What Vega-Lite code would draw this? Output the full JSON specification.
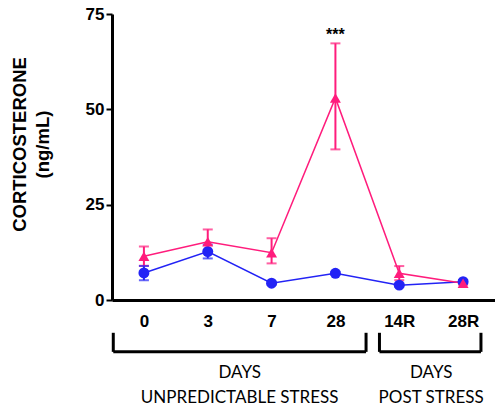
{
  "$schema": "https://vega.github.io/schema/vega-lite/v6.json",
  "autosize": "none",
  "width": 383,
  "height": 286,
  "padding": {"left": 112, "top": 14, "right": 0, "bottom": 111},
  "config": {"view": {"stroke": null}},
  "datasets": {
    "pts": [
      {"idx": 0, "group": "B", "value": 7.1, "lo": 5.2, "hi": 8.9},
      {"idx": 1, "group": "B", "value": 12.7, "lo": 10.9, "hi": 14.5},
      {"idx": 2, "group": "B", "value": 4.4, "lo": 4.0, "hi": 4.8},
      {"idx": 3, "group": "B", "value": 7.0, "lo": 6.6, "hi": 7.4},
      {"idx": 4, "group": "B", "value": 3.9, "lo": 3.5, "hi": 4.3},
      {"idx": 5, "group": "B", "value": 4.8, "lo": 4.4, "hi": 5.2},
      {"idx": 0, "group": "P", "value": 11.5, "lo": 9.0, "hi": 14.0},
      {"idx": 1, "group": "P", "value": 15.3, "lo": 12.3, "hi": 18.5},
      {"idx": 2, "group": "P", "value": 12.4, "lo": 9.6, "hi": 16.2},
      {"idx": 3, "group": "P", "value": 53.0, "lo": 39.5, "hi": 67.3},
      {"idx": 4, "group": "P", "value": 7.0, "lo": 5.2, "hi": 8.9},
      {"idx": 5, "group": "P", "value": 4.4, "lo": 4.0, "hi": 4.8}
    ],
    "brackets": [
      {"x": -0.48, "x2": -0.48, "y": -8.6, "y2": -13.6},
      {"x": 3.48, "x2": 3.48, "y": -8.6, "y2": -13.6},
      {"x": -0.48, "x2": 3.48, "y": -13.6, "y2": -13.6},
      {"x": 3.69, "x2": 3.69, "y": -8.6, "y2": -13.6},
      {"x": 5.28, "x2": 5.28, "y": -8.6, "y2": -13.6},
      {"x": 3.69, "x2": 5.28, "y": -13.6, "y2": -13.6}
    ],
    "notes": [
      {"x": 1.5, "y": -19.1, "text": "DAYS"},
      {"x": 1.5, "y": -25.7, "text": "UNPREDICTABLE STRESS"},
      {"x": 4.5, "y": -19.1, "text": "DAYS"},
      {"x": 4.5, "y": -25.7, "text": "POST STRESS"}
    ],
    "stars": [{"x": 3, "y": 69.5, "text": "***"}]
  },
  "layer": [
    {
      "data": {"name": "pts"},
      "mark": {"type": "line", "strokeWidth": 1.5},
      "encoding": {
        "x": {
          "field": "idx", "type": "quantitative",
          "scale": {"domain": [-0.5, 5.5], "nice": false, "zero": false},
          "axis": {
            "title": null, "values": [0, 1, 2, 3, 4, 5], "grid": false, "ticks": false,
            "labelExpr": "['0','3','7','28','14R','28R'][datum.value]",
            "domainColor": "black", "domainWidth": 3,
            "labelFont": "Liberation Sans", "labelFontWeight": "bold", "labelFontSize": 17,
            "labelColor": "black", "labelPadding": 13
          }
        },
        "y": {
          "field": "value", "type": "quantitative",
          "scale": {"domain": [0, 75], "nice": false},
          "axis": {
            "title": ["CORTICOSTERONE", "(ng/mL)"], "values": [0, 25, 50, 75], "grid": false,
            "domainColor": "black", "domainWidth": 3, "tickColor": "black", "tickWidth": 2, "tickSize": 6,
            "labelFont": "Liberation Sans", "labelFontWeight": "bold", "labelFontSize": 17, "labelColor": "black",
            "labelPadding": 2,
            "titleFont": "Liberation Sans", "titleFontWeight": "bold", "titleFontSize": 18.5, "titleColor": "black",
            "titlePadding": 33, "titleLineHeight": 23, "titleY": 130
          }
        },
        "color": {"field": "group", "type": "nominal", "scale": {"domain": ["B", "P"], "range": ["#2323F5", "#FF1C7C"]}, "legend": null},
        "order": {"field": "idx"}
      }
    },
    {
      "data": {"name": "pts"},
      "mark": {"type": "rule", "strokeWidth": 2},
      "encoding": {
        "x": {"field": "idx", "type": "quantitative"},
        "y": {"field": "lo", "type": "quantitative"},
        "y2": {"field": "hi"},
        "color": {"field": "group", "type": "nominal"}
      }
    },
    {
      "data": {"name": "pts"},
      "mark": {"type": "tick", "orient": "horizontal", "thickness": 2, "size": 10},
      "encoding": {
        "x": {"field": "idx", "type": "quantitative"},
        "y": {"field": "lo", "type": "quantitative"},
        "color": {"field": "group", "type": "nominal"}
      }
    },
    {
      "data": {"name": "pts"},
      "mark": {"type": "tick", "orient": "horizontal", "thickness": 2, "size": 10},
      "encoding": {
        "x": {"field": "idx", "type": "quantitative"},
        "y": {"field": "hi", "type": "quantitative"},
        "color": {"field": "group", "type": "nominal"}
      }
    },
    {
      "data": {"name": "pts"},
      "mark": {"type": "point", "filled": true, "opacity": 1, "size": 120},
      "encoding": {
        "x": {"field": "idx", "type": "quantitative"},
        "y": {"field": "value", "type": "quantitative"},
        "color": {"field": "group", "type": "nominal"},
        "shape": {"field": "group", "type": "nominal", "scale": {"domain": ["B", "P"], "range": ["circle", "triangle-up"]}, "legend": null}
      }
    },
    {
      "data": {"name": "brackets"},
      "mark": {"type": "rule", "strokeWidth": 3, "color": "black", "clip": false},
      "encoding": {
        "x": {"field": "x", "type": "quantitative"},
        "x2": {"field": "x2"},
        "y": {"field": "y", "type": "quantitative"},
        "y2": {"field": "y2"}
      }
    },
    {
      "data": {"name": "notes"},
      "mark": {"type": "text", "font": "Lato", "fontSize": 17, "color": "black", "baseline": "middle", "align": "center"},
      "encoding": {
        "x": {"field": "x", "type": "quantitative"},
        "y": {"field": "y", "type": "quantitative"},
        "text": {"field": "text"}
      }
    },
    {
      "data": {"name": "stars"},
      "mark": {"type": "text", "font": "Liberation Sans", "fontSize": 16, "fontWeight": "bold", "color": "black", "baseline": "middle", "align": "center"},
      "encoding": {
        "x": {"field": "x", "type": "quantitative"},
        "y": {"field": "y", "type": "quantitative"},
        "text": {"field": "text"}
      }
    }
  ]
}
